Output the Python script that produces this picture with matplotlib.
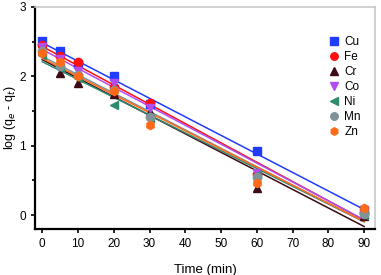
"""log(qe - qt) vs time for metal ions."""

import numpy as np
import matplotlib
matplotlib.use("Agg")
import matplotlib.pyplot as plt

plt.rcParams["font.family"] = ["Liberation Sans", "DejaVu Sans"]

time = [0, 5, 10, 20, 30, 60, 90]
metals = ["Cu", "Fe", "Cr", "Co", "Ni", "Mn", "Zn"]
log_q = {
    "Cu": [2.51, 2.36, 2.18, 2.00, 1.60, 0.93, 0.07],
    "Fe": [2.45, 2.29, 2.20, 1.85, 1.62, 0.60, 0.03],
    "Cr": [2.38, 2.05, 1.90, 1.75, 1.48, 0.39, -0.01],
    "Co": [2.42, 2.25, 2.08, 1.91, 1.55, 0.61, 0.02],
    "Ni": [2.30, 2.12, 1.98, 1.58, 1.40, 0.58, 0.00],
    "Mn": [2.36, 2.15, 2.02, 1.80, 1.42, 0.55, 0.02],
    "Zn": [2.34, 2.20, 2.00, 1.79, 1.30, 0.47, 0.10],
}
colors = ["#1f3cff", "#ff1010", "#3c0a14", "#b04cf0", "#2e8b70", "#7f9499", "#ff6a18"]
markers = ["s", "o", "^", "v", "<", "o", "h"]

fig = plt.figure(figsize=(3.81, 2.75), dpi=100)
ax = fig.add_axes([0.092, 0.167, 0.892, 0.808])

t = np.array(time)
xs = np.array([0, 90])
for m, c, mk in zip(metals, colors, markers):
    y = np.array(log_q[m])
    k, b = np.polyfit(t, y, 1)
    ax.plot(xs, k * xs + b, color=c, lw=1.1, zorder=2)
    ax.plot(t, y, ls="none", marker=mk, color=c, ms=6, label=m, zorder=3)

ax.set_xlim(-2, 93)
ax.set_ylim(-0.2, 3)
ax.set_xticks(range(0, 100, 10))
ax.set_yticks([0, 1, 2, 3])
ax.set_yticks([0.5, 1.5, 2.5], minor=True)
ax.tick_params(direction="out", labelsize=8.5, width=1.2, length=3)
ax.tick_params(which="minor", direction="out", width=1.2, length=2)
for s in ["left", "bottom"]:
    ax.spines[s].set_linewidth(1.6)
for s in ["top", "right"]:
    ax.spines[s].set_color("#c8c8c8")
    ax.spines[s].set_linewidth(1.2)

ax.set_xlabel("Time (min)", fontsize=9.5, labelpad=10)
ax.set_ylabel("log (q$_e$ - q$_t$)", fontsize=9, labelpad=1)

ax.legend(loc="upper right", bbox_to_anchor=(0.99, 0.915), frameon=False,
          fontsize=8.5, handletextpad=0.3, labelspacing=0.25, handlelength=1.2,
          markerscale=0.9)

fig.savefig("out.png", dpi=100)
